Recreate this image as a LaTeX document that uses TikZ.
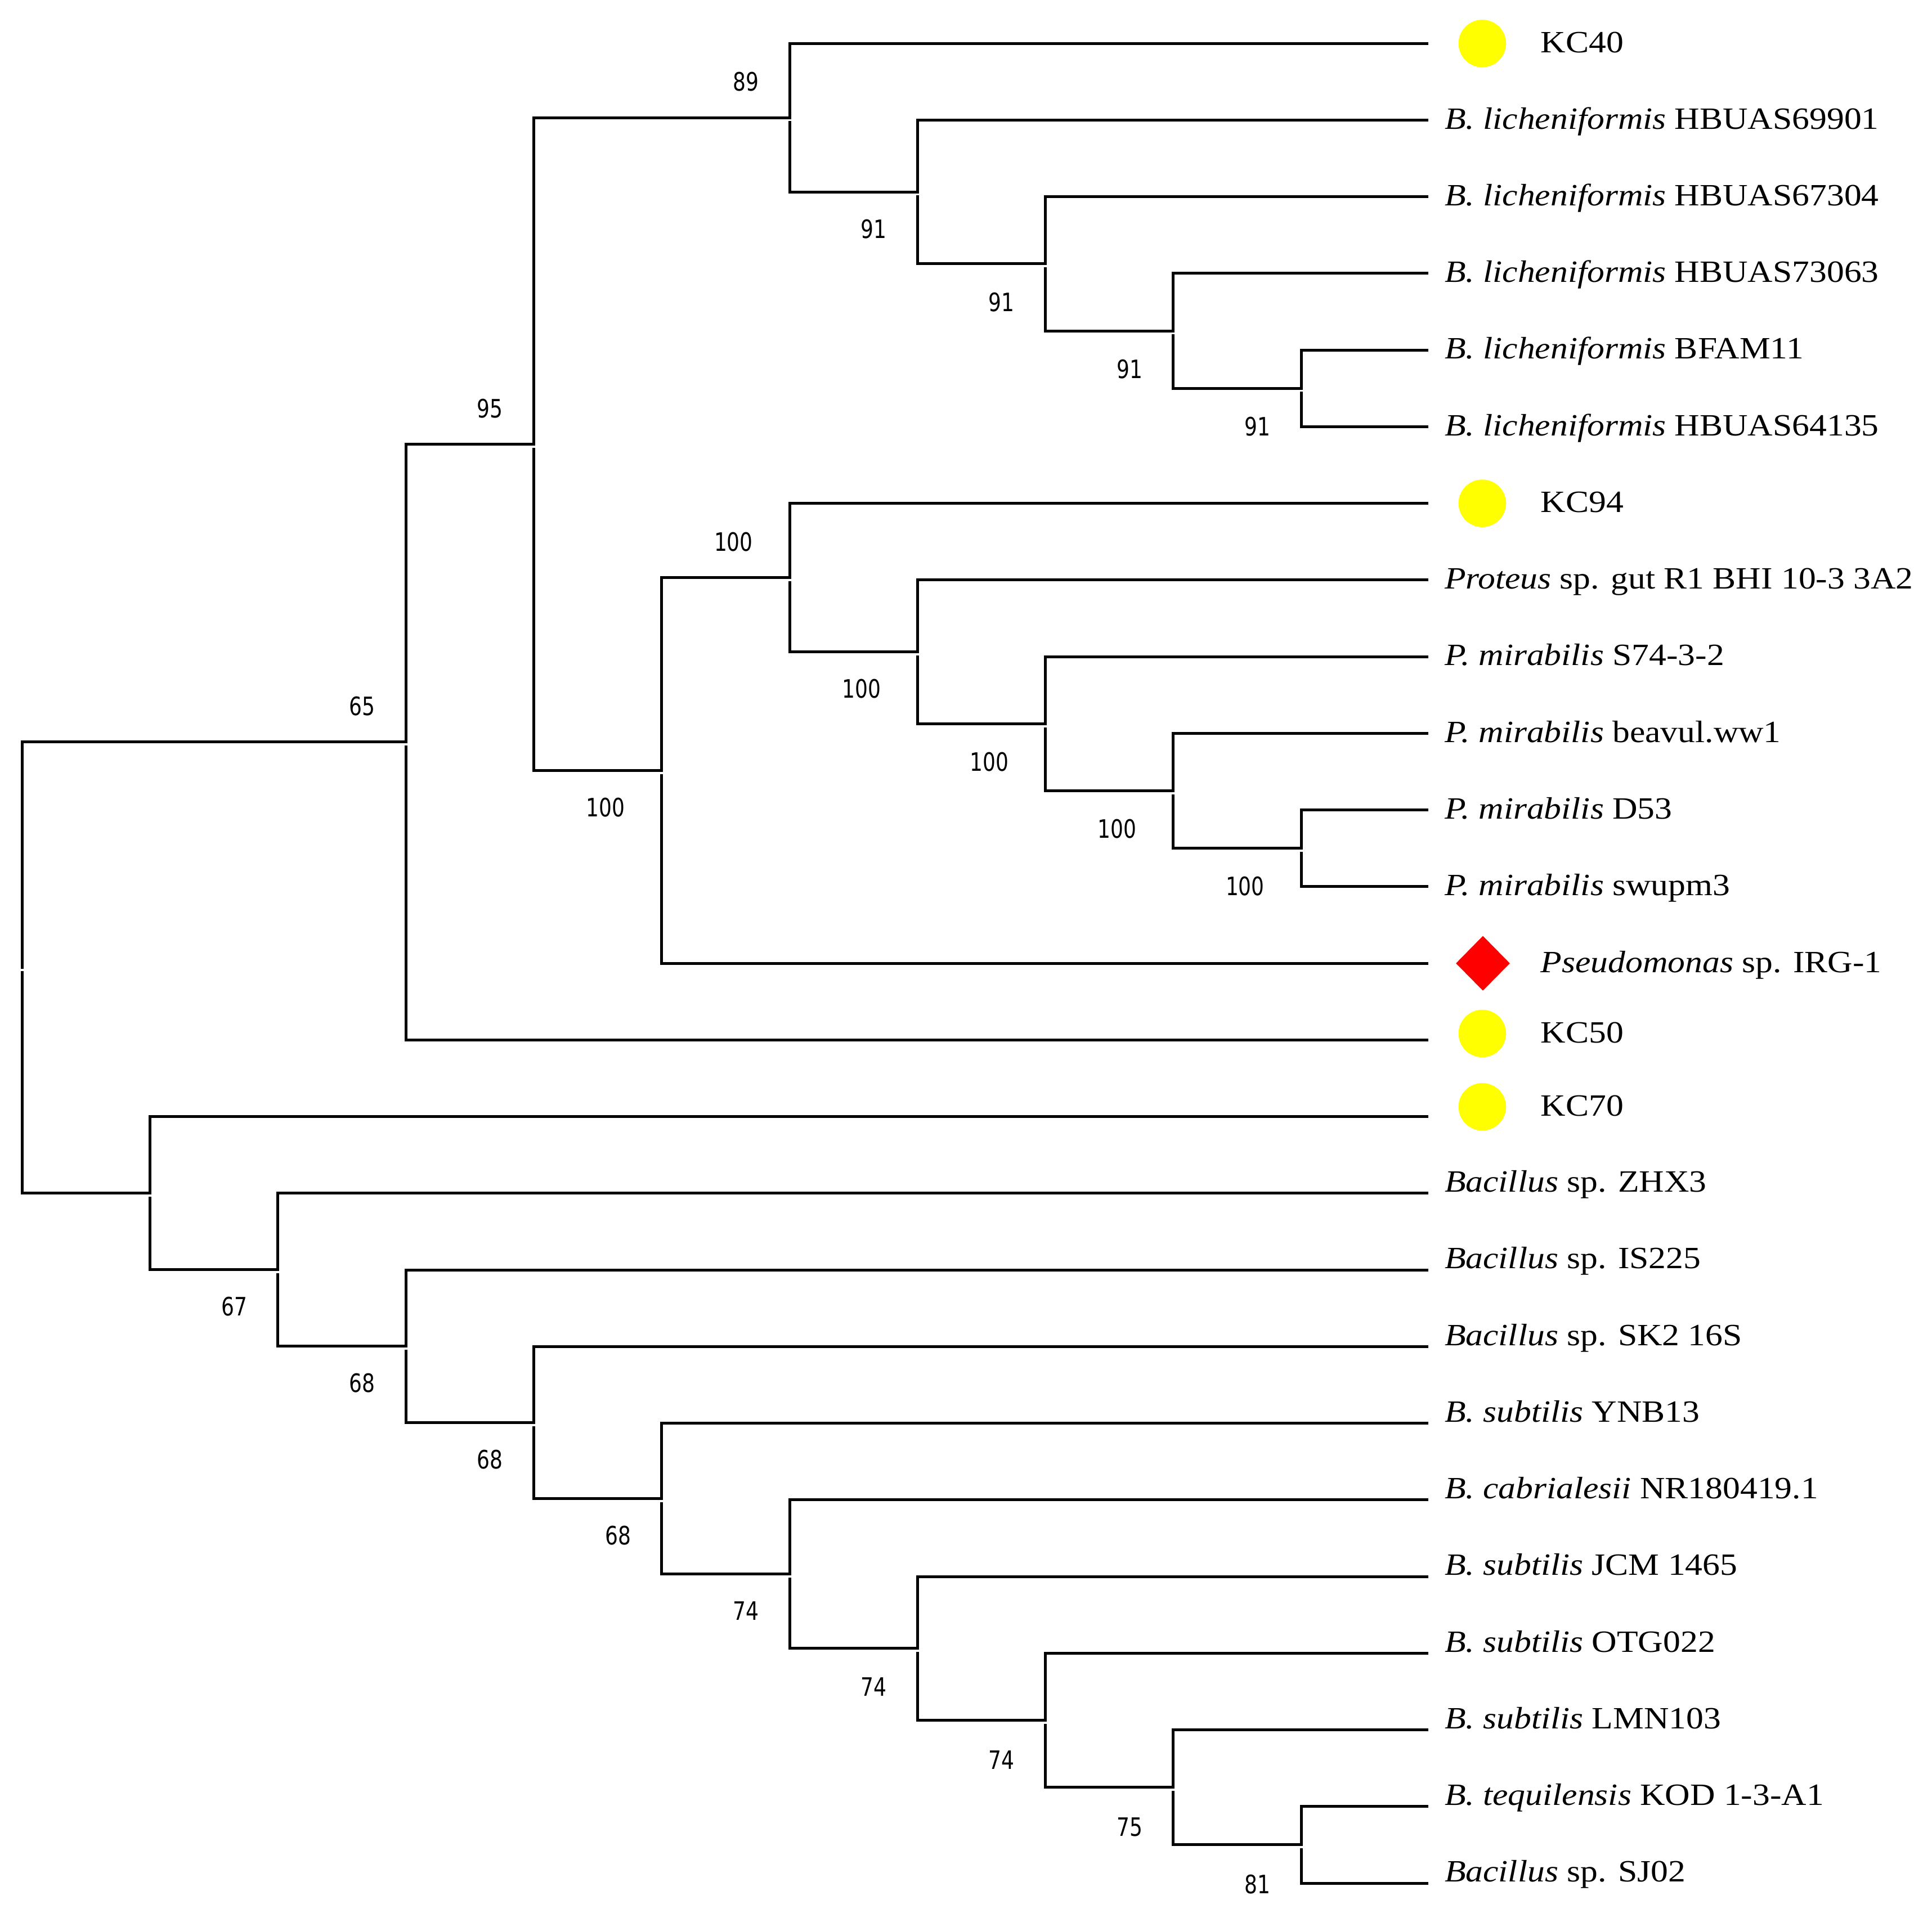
\documentclass[tikz,border=0pt]{standalone}
\usepackage{fontspec}
\setmainfont{Liberation Serif}[FakeStretch=1.12]
\newfontfamily\bsfont{DejaVu Sans}[FakeStretch=0.8]
\usetikzlibrary{calc,shapes.geometric}
\definecolor{kcyellow}{RGB}{255,255,0}
\definecolor{refred}{RGB}{255,0,0}
\begin{document}
\begin{tikzpicture}[x=0.43788pt, y=-0.43788pt,
  br/.style={line width=1pt, line cap=rect, line join=miter},
  leaf/.style={anchor=base west, inner sep=0pt, font=\fontsize{11}{13}\selectfont},
  bs/.style={inner sep=0pt, font=\bsfont\fontsize{9}{11}\selectfont},
  kcdot/.style={circle, fill=kcyellow, draw=none, inner sep=0pt, minimum size=16.9pt},
  refmark/.style={diamond, fill=refred, draw=none, inner sep=0pt, minimum width=19.3pt, minimum height=19.6pt}]
\useasboundingbox[fill=white] (0,0) rectangle (1568,1549.7);

% internal nodes
\coordinate (R) at (18, 785.5);
\coordinate (A) at (329.4, 602.3);
\coordinate (B) at (433.2, 360.5);
\coordinate (C) at (640.8, 95.5);
\coordinate (D) at (744.6, 155.8);
\coordinate (E) at (848.4, 214.1);
\coordinate (F) at (952.2, 268.6);
\coordinate (G) at (1056.0, 315.25);
\coordinate (H) at (537.0, 625.4);
\coordinate (I) at (640.8, 468.9);
\coordinate (J) at (744.6, 529.1);
\coordinate (K) at (848.4, 587.5);
\coordinate (L) at (952.2, 642.0);
\coordinate (M) at (1056.0, 688.6);
\coordinate (N) at (121.8, 968.6);
\coordinate (O) at (225.6, 1030.8);
\coordinate (P) at (329.4, 1092.9);
\coordinate (Q) at (433.2, 1154.9);
\coordinate (Rr) at (537.0, 1216.6);
\coordinate (S) at (640.8, 1277.9);
\coordinate (T) at (744.6, 1338.2);
\coordinate (U) at (848.4, 1396.5);
\coordinate (V) at (952.2, 1451.0);
\coordinate (W) at (1056.0, 1497.6);

% leaf tips
\foreach \i in {0,...,24} {
  \coordinate (t\i) at (1158, {35.2+62.23*\i});
}

% branches: parent / upper child / lower child
\foreach \p/\u/\l in {R/A/N, A/B/t13, B/C/H, C/t0/D, D/t1/E, E/t2/F, F/t3/G, G/t4/t5,
  H/I/t12, I/t6/J, J/t7/K, K/t8/L, L/t9/M, M/t10/t11,
  N/t14/O, O/t15/P, P/t16/Q, Q/t17/Rr, Rr/t18/S, S/t19/T, T/t20/U, U/t21/V, V/t22/W, W/t23/t24} {
  \draw[br] (\p) |- (\u);
  \draw[br] ([yshift=-1.75pt]\p) |- (\l);
}

% bootstrap values
\node[bs] (bC) at ($(C)+(-35.5,-29)$) {89};
\node[bs] (bD) at ($(D)+(-35.5,30)$) {91};
\node[bs] (bE) at ($(E)+(-35.5,31)$) {91};
\node[bs] (bF) at ($(F)+(-35.5,31)$) {91};
\node[bs] (bG) at ($(G)+(-35.5,31)$) {91};
\node[bs] (bB) at ($(B)+(-35.5,-29)$) {95};
\node[bs] (bI) at ($(I)+(-45.5,-29)$) {100};
\node[bs] (bJ) at ($(J)+(-45.5,30)$) {100};
\node[bs] (bK) at ($(K)+(-45.5,31)$) {100};
\node[bs] (bL) at ($(L)+(-45.5,31)$) {100};
\node[bs] (bM) at ($(M)+(-45.5,31)$) {100};
\node[bs] (bH) at ($(H)+(-45.5,30)$) {100};
\node[bs] (bA) at ($(A)+(-35.5,-29)$) {65};
\node[bs] (bO) at ($(O)+(-35.5,30)$) {67};
\node[bs] (bP) at ($(P)+(-35.5,30)$) {68};
\node[bs] (bQ) at ($(Q)+(-35.5,30)$) {68};
\node[bs] (bRr) at ($(Rr)+(-35.5,30)$) {68};
\node[bs] (bS) at ($(S)+(-35.5,30)$) {74};
\node[bs] (bT) at ($(T)+(-35.5,31)$) {74};
\node[bs] (bU) at ($(U)+(-35.5,32)$) {74};
\node[bs] (bV) at ($(V)+(-35.5,32)$) {75};
\node[bs] (bW) at ($(W)+(-35.5,32)$) {81};

% markers
\node[kcdot] (m0) at (1203, 35.3) {};
\node[kcdot] (m6) at (1203, 408.6) {};
\node[refmark] (m12) at (1203.5, 782.0) {};
\node[kcdot] (m13) at (1203, 839.0) {};
\node[kcdot] (m14) at (1203, 898.5) {};

% leaf labels
\node[leaf] (l0) at (1250, 42.6) {KC40};
\node[leaf] (l1) at (1172, 104.6) {\textit{B. licheniformis} HBUAS69901};
\node[leaf] (l2) at (1172, 166.9) {\textit{B. licheniformis} HBUAS67304};
\node[leaf] (l3) at (1172, 229.1) {\textit{B. licheniformis} HBUAS73063};
\node[leaf] (l4) at (1172, 291.3) {\textit{B. licheniformis} BFAM11};
\node[leaf] (l5) at (1172, 353.6) {\textit{B. licheniformis} HBUAS64135};
\node[leaf] (l6) at (1250, 415.8) {KC94};
\node[leaf] (l7) at (1172, 478.0) {\textit{Proteus} sp. gut R1 BHI 10-3 3A2};
\node[leaf] (l8) at (1172, 540.2) {\textit{P. mirabilis} S74-3-2};
\node[leaf] (l9) at (1172, 602.5) {\textit{P. mirabilis} beavul.ww1};
\node[leaf] (l10) at (1172, 664.7) {\textit{P. mirabilis} D53};
\node[leaf] (l11) at (1172, 726.9) {\textit{P. mirabilis} swupm3};
\node[leaf] (l12) at (1250, 789.6) {\textit{Pseudomonas} sp. IRG-1};
\node[leaf] (l13) at (1250, 846.7) {KC50};
\node[leaf] (l14) at (1250, 906.1) {KC70};
\node[leaf] (l15) at (1172, 967.7) {\textit{Bacillus} sp. ZHX3};
\node[leaf] (l16) at (1172, 1029.9) {\textit{Bacillus} sp. IS225};
\node[leaf] (l17) at (1172, 1092.1) {\textit{Bacillus} sp. SK2 16S};
\node[leaf] (l18) at (1172, 1154.3) {\textit{B. subtilis} YNB13};
\node[leaf] (l19) at (1172, 1216.6) {\textit{B. cabrialesii} NR180419.1};
\node[leaf] (l20) at (1172, 1278.8) {\textit{B. subtilis} JCM 1465};
\node[leaf] (l21) at (1172, 1341.0) {\textit{B. subtilis} OTG022};
\node[leaf] (l22) at (1172, 1403.3) {\textit{B. subtilis} LMN103};
\node[leaf] (l23) at (1172, 1465.5) {\textit{B. tequilensis} KOD 1-3-A1};
\node[leaf] (l24) at (1172, 1527.7) {\textit{Bacillus} sp. SJ02};
\end{tikzpicture}
\end{document}
